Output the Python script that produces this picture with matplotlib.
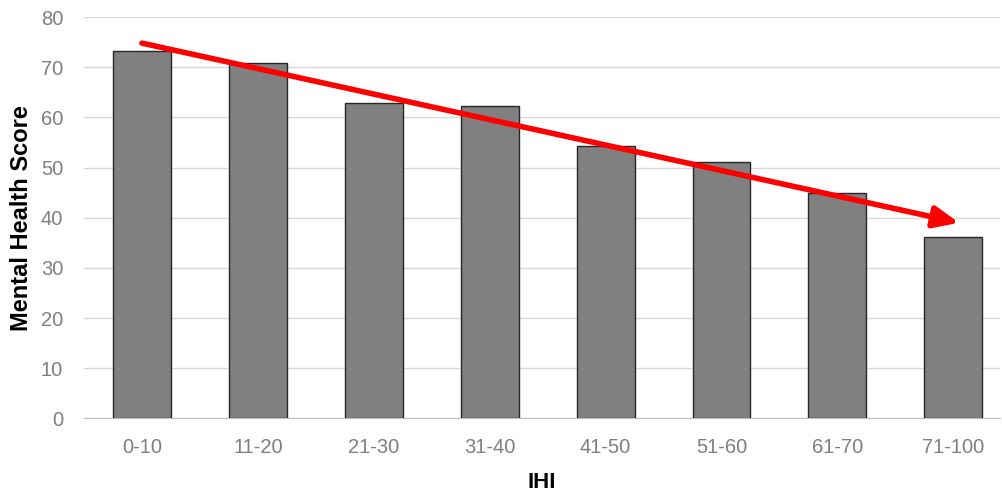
import matplotlib
matplotlib.use("Agg")
import matplotlib.pyplot as plt

categories = ["0-10", "11-20", "21-30", "31-40", "41-50", "51-60", "61-70", "71-100"]
scores = [73.3, 70.8, 62.8, 62.2, 54.3, 51.2, 45.0, 36.1]
trend_start = (0, 74.8)
trend_end = (7.05, 39.0)
yticks = [0, 10, 20, 30, 40, 50, 60, 70, 80]

plt.rcParams['font.family'] = ['Liberation Sans', 'DejaVu Sans']

fig = plt.figure(figsize=(10.03, 4.92), dpi=100)
ax = fig.add_axes([0.0837, 0.1494, 0.913, 0.816])

x = list(range(len(categories)))
ax.bar(x, scores, width=0.5, color="#808080", edgecolor="#262626", linewidth=1.0, zorder=3)

ax.set_xlim(-0.5, 7.4)
ax.set_ylim(0, 80)
ax.set_yticks(yticks)
ax.set_xticks(x)
ax.set_xticklabels(categories)
ax.yaxis.grid(True, color="#d9d9d9", linewidth=1.0, zorder=0)
ax.set_axisbelow(True)
for s in ["top", "right", "left"]:
    ax.spines[s].set_visible(False)
ax.spines["bottom"].set_color("#bfbfbf")
ax.spines["bottom"].set_zorder(4)
ax.tick_params(axis="both", length=0, labelsize=14.5, labelcolor="#7f7f7f")
ax.tick_params(axis="x", pad=14)
ax.tick_params(axis="y", pad=15)

ax.set_xlabel("IHI", fontsize=16, fontweight="bold", labelpad=11)
ax.set_ylabel("Mental Health Score", fontsize=17, fontweight="bold")
ax.yaxis.set_label_coords(-0.056, 0.5)

ax.annotate("", xy=trend_end, xytext=trend_start,
            arrowprops=dict(arrowstyle="-|>,head_length=1.5,head_width=0.65", color="#ff0000",
                            lw=4, shrinkA=0, shrinkB=0, capstyle="round"), zorder=5)

fig.savefig("out.png", dpi=100)
